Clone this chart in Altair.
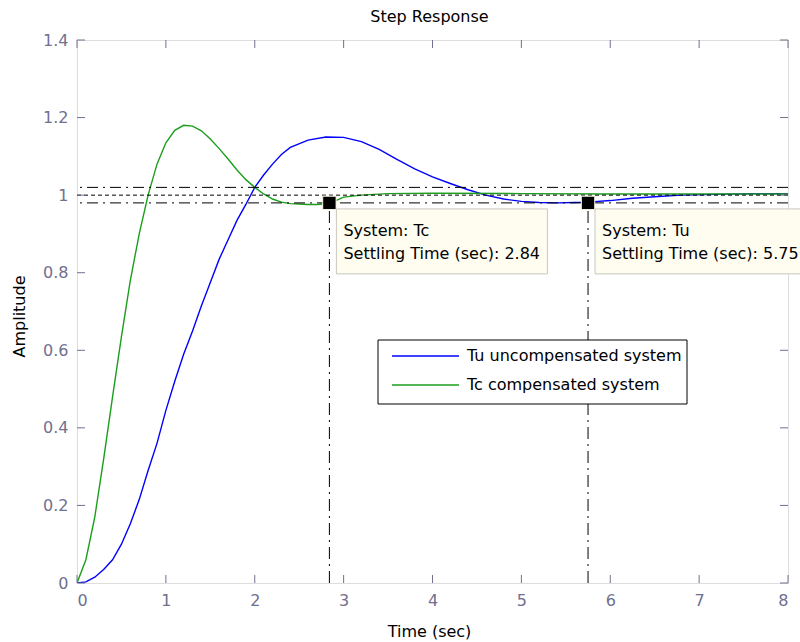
import altair as alt
import pandas as pd

# ---------------- data ----------------
t_u = [0, 0.1, 0.2, 0.3, 0.4, 0.5, 0.6, 0.7, 0.8, 0.9, 1.0, 1.1, 1.2, 1.3, 1.4, 1.5,
       1.6, 1.7, 1.8, 1.9, 2.0, 2.1, 2.2, 2.3, 2.4, 2.6, 2.8, 3.0, 3.2, 3.4, 3.6, 3.8,
       4.0, 4.2, 4.4, 4.6, 4.8, 5.0, 5.2, 5.4, 5.6, 5.75, 6.0, 6.25, 6.5, 6.8, 7.2, 7.6, 8.0]
y_u = [0, 0.003, 0.015, 0.035, 0.06, 0.1, 0.153, 0.215, 0.29, 0.36, 0.445, 0.52, 0.59,
       0.65, 0.715, 0.775, 0.835, 0.885, 0.935, 0.976, 1.02, 1.052, 1.08, 1.105, 1.123,
       1.142, 1.15, 1.149, 1.138, 1.118, 1.092, 1.068, 1.047, 1.03, 1.014, 1.0, 0.99,
       0.984, 0.981, 0.98, 0.981, 0.982, 0.986, 0.992, 0.996, 1.0, 1.002, 1.004, 1.004]

t_c = [0, 0.1, 0.2, 0.3, 0.4, 0.5, 0.6, 0.7, 0.8, 0.9, 1.0, 1.1, 1.2, 1.3, 1.4, 1.5,
       1.6, 1.7, 1.8, 1.9, 2.0, 2.1, 2.2, 2.3, 2.4, 2.5, 2.6, 2.7, 2.84, 3.0, 3.2, 3.5,
       4.0, 5.0, 6.0, 7.0, 8.0]
y_c = [0, 0.06, 0.17, 0.32, 0.48, 0.635, 0.78, 0.9, 1.0, 1.08, 1.135, 1.167, 1.18,
       1.178, 1.166, 1.145, 1.12, 1.093, 1.065, 1.04, 1.02, 1.003, 0.99, 0.982, 0.978,
       0.977, 0.976, 0.976, 0.978, 0.995, 1.0, 1.004, 1.005, 1.004, 1.003, 1.003, 1.003]

series_names = ["Tu uncompensated system", "Tc compensated system"]
series_colors = ["#0000ff", "#1c9e1c"]

settle_sys = ["Tc", "Tu"]
settle_time = [2.84, 5.75]
settle_amp = [0.98, 0.98]

band_dashdot = [1.02, 0.98]
band_dotted = [1.0]

x_ticks = [0, 1, 2, 3, 4, 5, 6, 7, 8]
y_ticks = [0, 0.2, 0.4, 0.6, 0.8, 1.0, 1.2, 1.4]

# ---------------- tables ----------------
curves = pd.concat([
    pd.DataFrame({"t": t_u, "a": y_u, "s": series_names[0], "o": 0}),
    pd.DataFrame({"t": t_c, "a": y_c, "s": series_names[1], "o": 1}),
])
settle = pd.DataFrame({
    "t": settle_time, "a": settle_amp, "zero": 0.0,
    "label": [f"System: {s}\nSettling Time (sec): {t:.2f}" for s, t in zip(settle_sys, settle_time)],
})
xt = pd.DataFrame({"t": x_ticks})
yt = pd.DataFrame({"v": y_ticks})

W, H = 711, 543
AXC = "#70708f"
FONT = "DejaVu Sans"

xs = alt.Scale(domain=[0, 8], nice=False, zero=False)
ys = alt.Scale(domain=[0, 1.4], nice=False, zero=False)

x_axis = alt.Axis(values=x_ticks, format="d", domain=False, ticks=False, grid=False,
                  labelPadding=9, labelFontSize=16, labelFont=FONT, labelColor=AXC,
                  title="Time (sec)", titleFont=FONT, titleFontSize=16, titleFontWeight="normal",
                  titleColor="black", titleX=352, titleY=53, titleAlign="center",
                  titleBaseline="alphabetic", titleAnchor="start")
y_axis = alt.Axis(values=y_ticks, domain=False, ticks=False, grid=False,
                  labelPadding=9, labelFontSize=16, labelFont=FONT, labelColor=AXC,
                  labelExpr="datum.value == 1 ? '1' : format(datum.value, '.1f') == '0.0' ? '0' : format(datum.value, '.1f')",
                  title="Amplitude", titleFont=FONT, titleFontSize=16, titleFontWeight="normal",
                  titleColor="black", titleX=-58, titleY=276, titleAlign="center",
                  titleBaseline="middle", titleAngle=270, titleAnchor="start")

lines = alt.Chart(curves).mark_line(strokeWidth=1.4, clip=True).encode(
    x=alt.X("t:Q", scale=xs, axis=x_axis),
    y=alt.Y("a:Q", scale=ys, axis=y_axis),
    color=alt.Color("s:N", scale=alt.Scale(domain=series_names, range=series_colors),
                    legend=None),
    order="o:Q",
)

band1 = alt.Chart(pd.DataFrame({"v": band_dashdot})).mark_rule(
    color="black", strokeWidth=1, strokeDash=[11, 5, 2, 5]).encode(
    y=alt.Y("v:Q", scale=ys))
band2 = alt.Chart(pd.DataFrame({"v": band_dotted})).mark_rule(
    color="black", strokeWidth=1, strokeDash=[4, 3]).encode(
    y=alt.Y("v:Q", scale=ys))

vlines = alt.Chart(settle).mark_rule(color="black", strokeWidth=1,
                                     strokeDash=[12, 5, 2, 5]).encode(
    x=alt.X("t:Q", scale=xs), y=alt.Y("zero:Q", scale=ys), y2="a:Q")

markers = alt.Chart(settle).mark_point(shape="square", filled=True, size=180,
                                       color="black", stroke="#fffbe8",
                                       strokeWidth=1, opacity=1).encode(
    x=alt.X("t:Q", scale=xs), y=alt.Y("a:Q", scale=ys))

boxes = alt.Chart(settle).mark_rect(fill="#fffcf0", stroke="#c8c8c0", strokeWidth=1,
                                    xOffset=7, x2Offset=218, yOffset=6, y2Offset=71).encode(
    x=alt.X("t:Q", scale=xs), x2="t:Q", y=alt.Y("a:Q", scale=ys), y2="a:Q")

texts = alt.Chart(settle).mark_text(align="left", baseline="alphabetic", dx=14, dy=33,
                                    fontSize=16, font=FONT, color="black",
                                    lineBreak="\n", lineHeight=23).encode(
    x=alt.X("t:Q", scale=xs), y=alt.Y("a:Q", scale=ys), text="label:N")

# inward ticks on all four sides
tb = alt.Chart(xt).mark_rule(color=AXC).encode(
    x=alt.X("t:Q", scale=xs), y=alt.value(H), y2=alt.value(H - 8))
tt = alt.Chart(xt).mark_rule(color=AXC).encode(
    x=alt.X("t:Q", scale=xs), y=alt.value(0), y2=alt.value(8))
tl = alt.Chart(yt).mark_rule(color=AXC).encode(
    y=alt.Y("v:Q", scale=ys), x=alt.value(0), x2=alt.value(8))
tr = alt.Chart(yt).mark_rule(color=AXC).encode(
    y=alt.Y("v:Q", scale=ys), x=alt.value(W), x2=alt.value(W - 8))

# legend box (MATLAB style, drawn inside the axes)
LX, LY, LW, LH = 301, 300, 309, 64
legend_layers = [
    alt.Chart(pd.DataFrame({"k": [0]})).mark_rect(fill="white", stroke="black", strokeWidth=1).encode(
        x=alt.value(LX), x2=alt.value(LX + LW), y=alt.value(LY), y2=alt.value(LY + LH))
]
for i, (name, col) in enumerate(zip(series_names, series_colors)):
    yy = LY + 16 + 29 * i
    row = pd.DataFrame({"s": [name]})
    legend_layers.append(alt.Chart(row).mark_rule(color=col, strokeWidth=1.4).encode(
        x=alt.value(LX + 14), x2=alt.value(LX + 81), y=alt.value(yy)))
    legend_layers.append(alt.Chart(row).mark_text(align="left", baseline="middle", fontSize=16,
                                                  font=FONT, color="black").encode(
        x=alt.value(LX + 89), y=alt.value(yy), text="s:N"))

chart = alt.layer(lines, band1, band2, vlines, tb, tt, tl, tr, markers, boxes, texts,
                  *legend_layers).properties(
    width=W, height=H,
    title=alt.TitleParams("Step Response", fontSize=16, font=FONT, fontWeight="normal",
                          color="black", anchor="middle", frame="group", offset=-6,
                          baseline="alphabetic", dx=-3),
    padding={"left": 77, "top": 40, "right": 12, "bottom": 59},
    autosize=alt.AutoSizeParams(type="none"),
).configure_view(stroke=AXC, strokeWidth=1).configure(background="white")

chart.save("out.html", embed_options={"renderer": "svg", "actions": False})
